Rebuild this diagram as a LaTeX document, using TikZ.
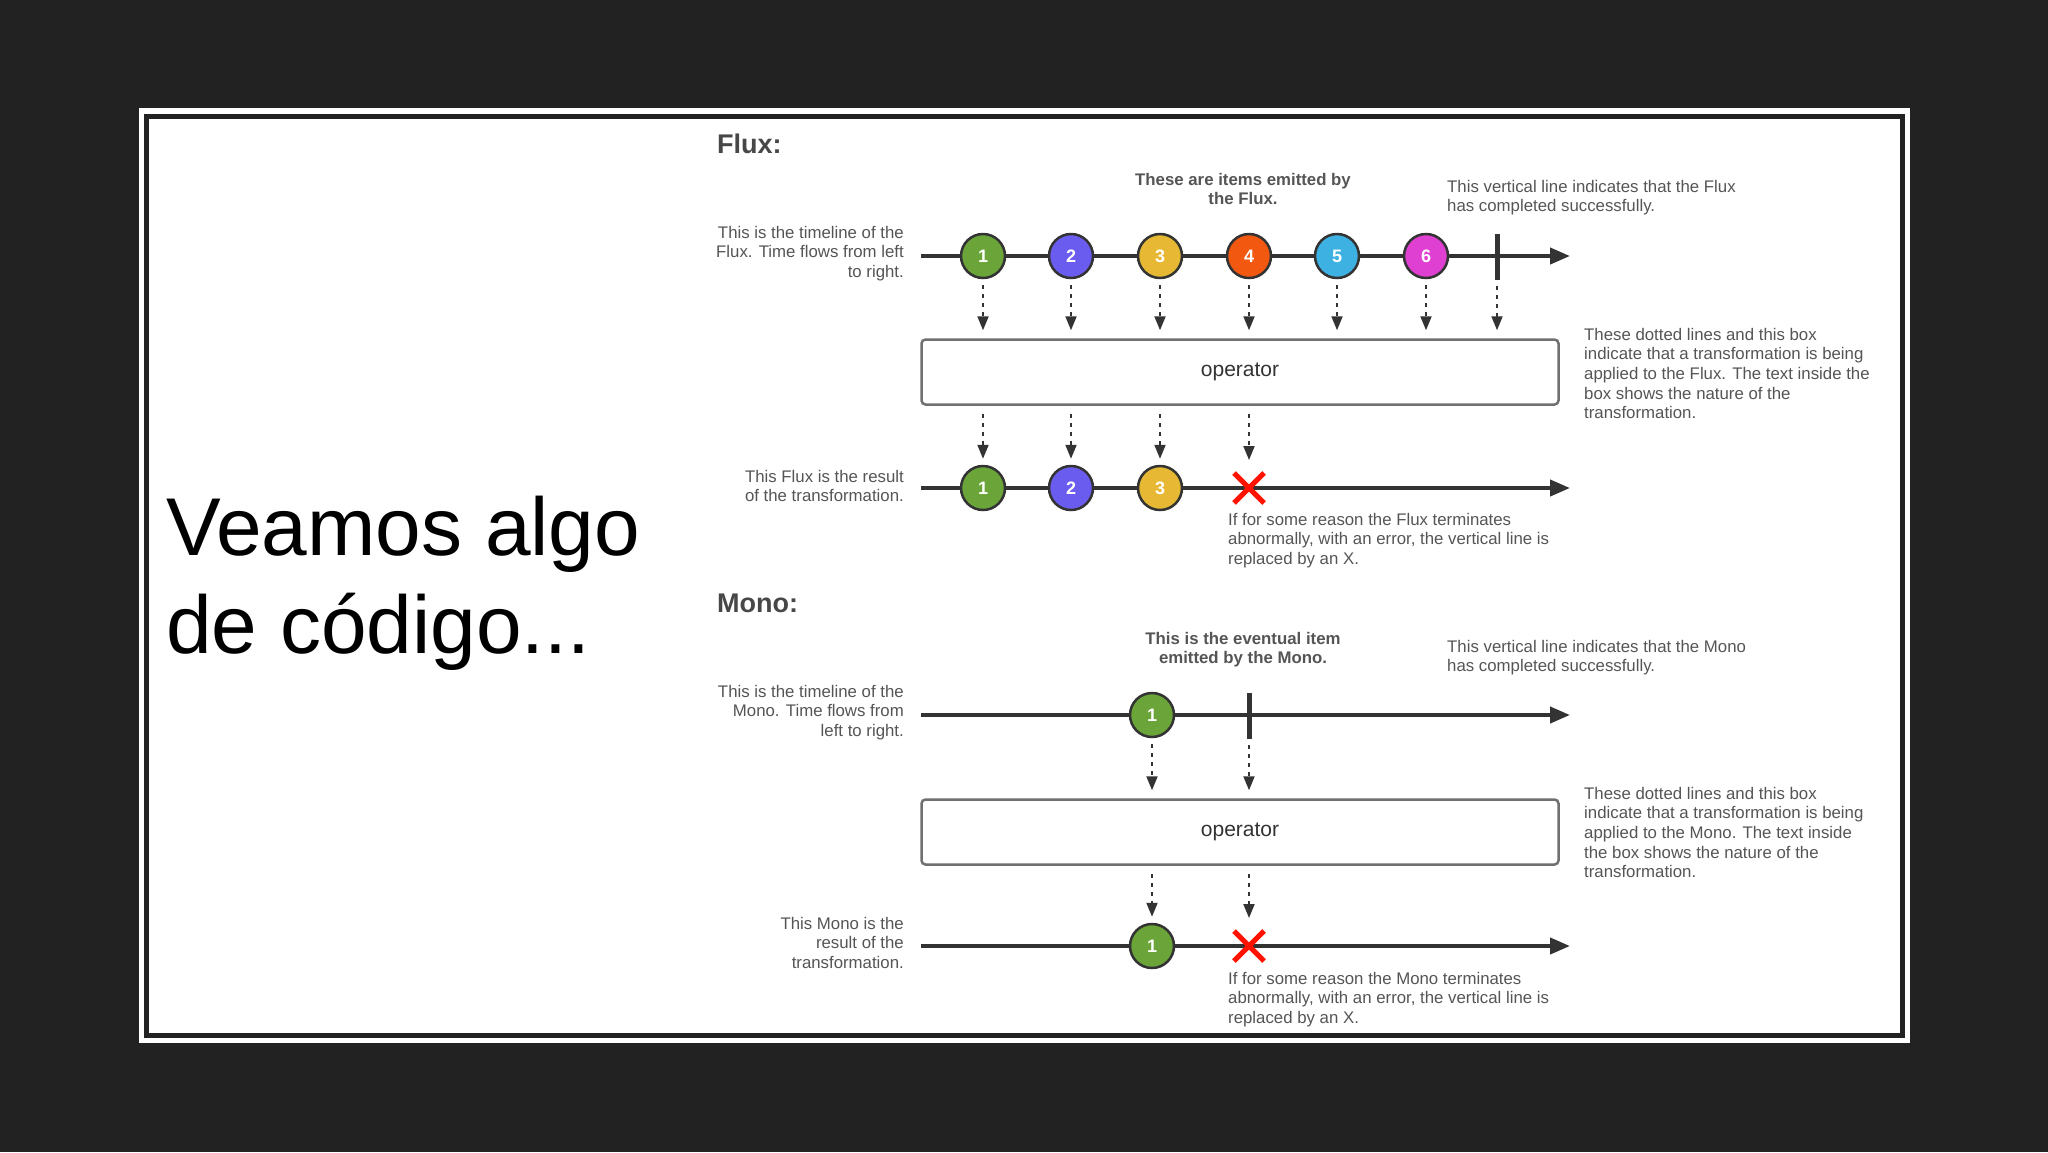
\documentclass[tikz,border=0pt]{standalone}
\usepackage{fontspec}
\setmainfont{Liberation Sans}
\usetikzlibrary{arrows.meta,calc}
\definecolor{bgd}{HTML}{222222}
\definecolor{ln}{HTML}{333333}
\definecolor{tx}{HTML}{555555}
\definecolor{cgreen}{HTML}{6BA539}
\definecolor{cpurple}{HTML}{6B5CF0}
\definecolor{cyellow}{HTML}{E6B833}
\definecolor{corange}{HTML}{F2580F}
\definecolor{ccyan}{HTML}{3DB2E2}
\definecolor{cmag}{HTML}{E040D2}
\begin{document}
\begin{tikzpicture}[x=1pt,y=-1pt,
  small/.style={font=\fontsize{16.8}{19.6}\selectfont, text=tx, inner sep=0pt},
  item/.style={circle, draw=ln, line width=2.5pt, minimum size=44pt, inner sep=0pt, text=white, font=\fontsize{18}{18}\selectfont\bfseries},
  tl/.style={draw=ln, line width=4pt, -{Triangle[length=20pt,width=16pt]}},
  dl/.style={draw=ln, line width=2pt, dash pattern=on 4pt off 5pt, -{Triangle[length=14pt,width=11pt]}},
  opbox/.style={draw=ln!70, line width=2.5pt, rounded corners=4pt, minimum width=637pt, minimum height=65pt, font=\fontsize{21}{21}\selectfont, text=ln},
  hd/.style={font=\fontsize{27}{27}\selectfont\bfseries, text=ln!90, inner sep=0pt, anchor=west},
  xmark/.style={draw=red!85!orange, line width=5pt}]
\fill[bgd] (0,0) rectangle (2048,1152);
\fill[white] (139,108) rectangle (1910,1043);
\draw[bgd, line width=5pt] (146,116) rectangle (1902,1035);
\node[anchor=base west, inner sep=0pt, align=left, font=\fontsize{82}{98}\selectfont, text=black] (ve) at (166,653) {Veamos algo\\de código...};

% ---------- FLUX ----------
\node[hd] (fluxh) at (717,144) {Flux:};
\coordinate (t1s) at (921,256); \coordinate (t1e) at (1570,256);
\draw[tl] (t1s) -- (t1e);
\node[item, fill=cgreen] (f1) at (983,256) {1};
\node[item, fill=cpurple] (f2) at (1071,256) {2};
\node[item, fill=cyellow] (f3) at (1160,256) {3};
\node[item, fill=corange] (f4) at (1249,256) {4};
\node[item, fill=ccyan] (f5) at (1337,256) {5};
\node[item, fill=cmag] (f6) at (1426,256) {6};
\coordinate (fb1) at (1497,234); \coordinate (fb2) at (1497,280);
\draw[ln, line width=5pt] (fb1) -- (fb2);
\node[opbox] (op1) at (1240,372) {operator};
\foreach \n in {f1,f2,f3,f4,f5,f6} \draw[dl] ($(\n.south)+(0,6)$) -- ($(\n.south|-op1.north)+(0,-8)$);
\draw[dl] ($(fb2)+(0,6)$) -- ($(fb2|-op1.north)+(0,-8)$);
\coordinate (r1s) at (921,488); \coordinate (r1e) at (1570,488);
\draw[tl] (r1s) -- (r1e);
\node[item, fill=cgreen] (g1) at (983,488) {1};
\node[item, fill=cpurple] (g2) at (1071,488) {2};
\node[item, fill=cyellow] (g3) at (1160,488) {3};
\coordinate (x1) at (1249,488);
\draw[xmark] ($(x1)+(-15,-15)$) -- ($(x1)+(15,15)$);
\draw[xmark] ($(x1)+(-15,15)$) -- ($(x1)+(15,-15)$);
\foreach \n in {g1,g2,g3} \draw[dl] ($(\n|-op1.south)+(0,8)$) -- ($(\n.north)+(0,-6)$);
\draw[dl] ($(x1|-op1.south)+(0,8)$) -- ($(x1)+(0,-28)$);

\node[small, align=right, anchor=north east] (ft1) at (904,226) {This is the timeline of the\\Flux. Time flows from left\\to right.};
\node[small, align=center, anchor=north, font=\fontsize{16.8}{19.6}\selectfont\bfseries] (ft2) at (1243,173) {These are items emitted by\\the Flux.};
\node[small, align=left, anchor=north west] (ft3) at (1447,180) {This vertical line indicates that the Flux\\has completed successfully.};
\node[small, align=left, anchor=north west] (ft4) at (1584,328) {These dotted lines and this box\\indicate that a transformation is being\\applied to the Flux. The text inside the\\box shows the nature of the\\transformation.};
\node[small, align=right, anchor=north east] (ft5) at (904,470) {This Flux is the result\\of the transformation.};
\node[small, align=left, anchor=north west] (ft6) at (1228,513) {If for some reason the Flux terminates\\abnormally, with an error, the vertical line is\\replaced by an X.};

% ---------- MONO ----------
\node[hd] (monoh) at (717,603) {Mono:};
\coordinate (t2s) at (921,715); \coordinate (t2e) at (1570,715);
\draw[tl] (t2s) -- (t2e);
\node[item, fill=cgreen] (m1) at (1152,715) {1};
\coordinate (mb1) at (1249,693); \coordinate (mb2) at (1249,739);
\draw[ln, line width=5pt] (mb1) -- (mb2);
\node[opbox] (op2) at (1240,832) {operator};
\draw[dl] ($(m1.south)+(0,6)$) -- ($(m1.south|-op2.north)+(0,-8)$);
\draw[dl] ($(mb2)+(0,6)$) -- ($(mb2|-op2.north)+(0,-8)$);
\coordinate (r2s) at (921,946); \coordinate (r2e) at (1570,946);
\draw[tl] (r2s) -- (r2e);
\node[item, fill=cgreen] (n1) at (1152,946) {1};
\coordinate (x2) at (1249,946);
\draw[xmark] ($(x2)+(-15,-15)$) -- ($(x2)+(15,15)$);
\draw[xmark] ($(x2)+(-15,15)$) -- ($(x2)+(15,-15)$);
\draw[dl] ($(n1|-op2.south)+(0,8)$) -- ($(n1.north)+(0,-6)$);
\draw[dl] ($(x2|-op2.south)+(0,8)$) -- ($(x2)+(0,-28)$);

\node[small, align=right, anchor=north east] (mt1) at (904,685) {This is the timeline of the\\Mono. Time flows from\\left to right.};
\node[small, align=center, anchor=north, font=\fontsize{16.8}{19.6}\selectfont\bfseries] (mt2) at (1243,632) {This is the eventual item\\emitted by the Mono.};
\node[small, align=left, anchor=north west] (mt3) at (1447,640) {This vertical line indicates that the Mono\\has completed successfully.};
\node[small, align=left, anchor=north west] (mt4) at (1584,787) {These dotted lines and this box\\indicate that a transformation is being\\applied to the Mono. The text inside\\the box shows the nature of the\\transformation.};
\node[small, align=right, anchor=north east] (mt5) at (904,917) {This Mono is the\\result of the\\transformation.};
\node[small, align=left, anchor=north west] (mt6) at (1228,972) {If for some reason the Mono terminates\\abnormally, with an error, the vertical line is\\replaced by an X.};
\end{tikzpicture}
\end{document}
